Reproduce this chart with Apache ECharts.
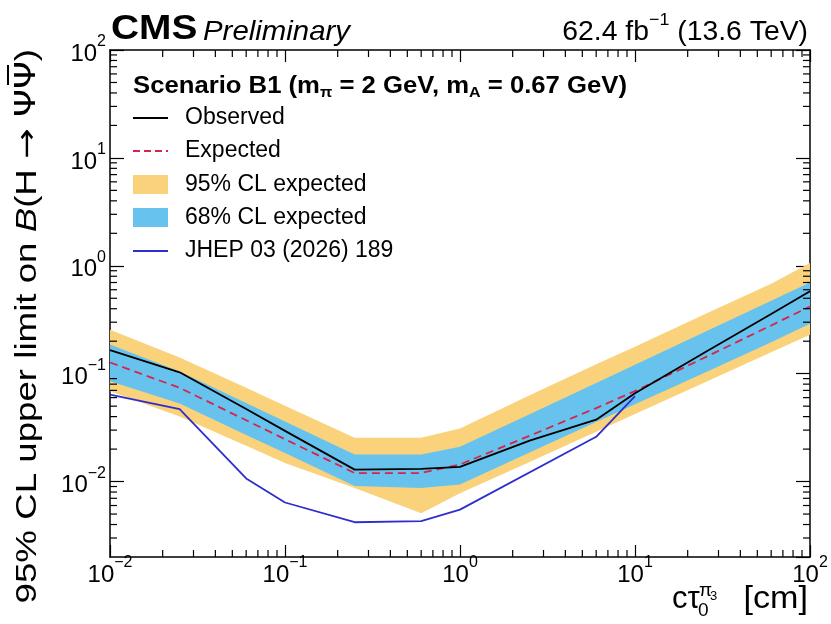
<!DOCTYPE html>
<html><head><meta charset="utf-8">
<script src="https://cdn.jsdelivr.net/npm/echarts@6/dist/echarts.min.js"></script>
<style>html,body{margin:0;padding:0;background:#fff}#c{width:831px;height:624px}</style>
</head><body><div id="c"></div>
<script>
// ---- data ----
const ctau = [0.01, 0.025, 0.06, 0.1, 0.25, 0.6, 1, 2.5, 6, 10, 25, 60, 100];
const observed = [0.165, 0.103, 0.047, 0.0295, 0.0129, 0.0131, 0.0137, 0.024, 0.0375, 0.066, 0.157, 0.357, 0.58];
const expected = [0.127, 0.074, 0.037, 0.0247, 0.012, 0.012, 0.0144, 0.0266, 0.048, 0.069, 0.141, 0.28, 0.42];
const band95Low = [0.0686, 0.040, 0.0215, 0.0149, 0.0087, 0.0051, 0.0078, 0.0152, 0.029, 0.0423, 0.083, 0.158, 0.23];
const band95High = [0.255, 0.141, 0.074, 0.0505, 0.0255, 0.0255, 0.031, 0.063, 0.122, 0.178, 0.355, 0.68, 1.06];
const band68Low = [0.085, 0.053, 0.027, 0.0184, 0.0091, 0.0087, 0.0094, 0.0186, 0.0357, 0.052, 0.102, 0.196, 0.29];
const band68High = [0.186, 0.105, 0.0535, 0.036, 0.0178, 0.0178, 0.021, 0.042, 0.082, 0.121, 0.244, 0.474, 0.70];
const jhepX = [0.01, 0.025, 0.06, 0.1, 0.25, 0.6, 1, 6, 10];
const jhepY = [0.064, 0.047, 0.0107, 0.0064, 0.0042, 0.0043, 0.0055, 0.026, 0.062];
const xRange = [0.01, 100];
const yRange = [0.002, 100];
const legendLabels = ['Observed', 'Expected', '95% CL expected', '68% CL expected', 'JHEP 03 (2026) 189'];

// ---- helpers ----
const FONT = "'Liberation Sans', Arial, Helvetica, sans-serif";
const DV = "'DejaVu Sans', sans-serif";
const C95 = '#F9D27B', C68 = '#67C3EE', CEXP = '#D6254D', CJHEP = '#2E2ECF';

function minorValues(lo, hi) {
  const out = [];
  for (let e = Math.floor(Math.log10(lo)); e < Math.ceil(Math.log10(hi)); e++) {
    for (let k = 2; k <= 9; k++) {
      const v = k * Math.pow(10, e);
      if (v > lo * 1.0001 && v < hi * 0.9999) out.push(v);
    }
  }
  return out;
}
function pow10Label(v) {
  const l = Math.log10(v), e = Math.round(l);
  if (Math.abs(l - e) > 1e-6) return '';
  return '{b|10}{s|' + (e < 0 ? '\u2212' + (-e) : e) + '}';
}
const labelRich = {
  b: {fontSize: 24, fontFamily: FONT, color: '#000', lineHeight: 32, verticalAlign: 'bottom'},
  s: {fontSize: 16, fontFamily: FONT, color: '#000', lineHeight: 18, verticalAlign: 'top'}
};
function bandRender(lo, hi, color) {
  return function (params, api) {
    if (params.dataIndex !== 0) return null;
    const pts = [];
    for (let i = 0; i < ctau.length; i++) pts.push(api.coord([ctau[i], hi[i]]));
    for (let i = ctau.length - 1; i >= 0; i--) pts.push(api.coord([ctau[i], lo[i]]));
    return {type: 'polygon', shape: {points: pts}, style: {fill: color}};
  };
}
function xMinorRender(params, api) {
  const v = api.value(0);
  const b = api.coord([v, yRange[0]]), t = api.coord([v, yRange[1]]);
  return {type: 'group', children: [
    {type: 'line', shape: {x1: b[0], y1: b[1], x2: b[0], y2: b[1] - 7}, style: {stroke: '#000', lineWidth: 1.2}},
    {type: 'line', shape: {x1: t[0], y1: t[1], x2: t[0], y2: t[1] + 7}, style: {stroke: '#000', lineWidth: 1.2}}
  ]};
}
function yMinorRender(params, api) {
  const v = api.value(1);
  const l = api.coord([xRange[0], v]), r = api.coord([xRange[1], v]);
  return {type: 'group', children: [
    {type: 'line', shape: {x1: l[0], y1: l[1], x2: l[0] + 7, y2: l[1]}, style: {stroke: '#000', lineWidth: 1.2}},
    {type: 'line', shape: {x1: r[0], y1: r[1], x2: r[0] - 7, y2: r[1]}, style: {stroke: '#000', lineWidth: 1.2}}
  ]};
}
function axisBase(extra) {
  return Object.assign({
    type: 'log', logBase: 10,
    axisLine: {show: true, onZero: false, lineStyle: {color: '#000', width: 1.5}},
    axisTick: {show: true, inside: true, length: 14, lineStyle: {color: '#000', width: 1.2}},
    splitLine: {show: false},
    minorTick: {show: false}
  }, extra);
}

const chart = echarts.init(document.getElementById('c'), null, {renderer: 'canvas'});

// legend rows (graphic)
const rowY = [118, 151, 185, 218, 251];
const legendGraphics = [
  {type: 'text', x: 133, y: 86, scaleX: 1.07, style: {
    text: '{b|Scenario B1 (m}{sub|\u03c0}{b| = 2 GeV, m}{sub|A}{b| = 0.67 GeV)}', verticalAlign: 'middle',
    rich: {
      b: {fontSize: 24, fontWeight: 'bold', fontFamily: FONT, fill: '#000', lineHeight: 28, verticalAlign: 'middle'},
      sub: {fontSize: 15, fontWeight: 'bold', fontFamily: FONT, fill: '#000', lineHeight: 16, verticalAlign: 'bottom'}
    }}},
  {type: 'line', shape: {x1: 133, y1: rowY[0], x2: 168, y2: rowY[0]}, style: {stroke: '#000', lineWidth: 1.8}},
  {type: 'line', shape: {x1: 133, y1: rowY[1], x2: 168, y2: rowY[1]}, style: {stroke: CEXP, lineWidth: 1.8, lineDash: [7, 4]}},
  {type: 'rect', shape: {x: 133, y: rowY[2] - 10, width: 35, height: 19}, style: {fill: C95}},
  {type: 'rect', shape: {x: 133, y: rowY[3] - 10, width: 35, height: 19}, style: {fill: C68}},
  {type: 'line', shape: {x1: 133, y1: rowY[4], x2: 168, y2: rowY[4]}, style: {stroke: CJHEP, lineWidth: 1.8}}
];
legendLabels.forEach((t, i) => {
  legendGraphics.push({type: 'text', x: 185, y: rowY[i], style: {text: t, font: '23px ' + FONT, fill: '#000', verticalAlign: 'middle'}});
});

const option = {
  animation: false,
  backgroundColor: '#fff',
  grid: {left: 110, right: 21, top: 50, bottom: 67, containLabel: false},
  xAxis: [
    axisBase({position: 'bottom', min: xRange[0], max: xRange[1], axisTick: {show: true, inside: true, length: 12, lineStyle: {color: '#000', width: 1.2}},
      axisLabel: {formatter: pow10Label, rich: labelRich, margin: -2, color: '#000'}}),
    axisBase({position: 'top', min: xRange[0], max: xRange[1], axisTick: {show: true, inside: true, length: 12, lineStyle: {color: '#000', width: 1.2}},
      axisLabel: {show: false}})
  ],
  yAxis: [
    axisBase({position: 'left', min: yRange[0], max: yRange[1],
      axisLabel: {formatter: pow10Label, rich: labelRich, margin: 4, color: '#000', showMinLabel: false}}),
    axisBase({position: 'right', min: yRange[0], max: yRange[1], axisLabel: {show: false}})
  ],
  series: [
    {type: 'custom', name: '95% CL expected', renderItem: bandRender(band95Low, band95High, C95), z: 1, silent: true,
      data: ctau.map((x, i) => [x, band95Low[i], band95High[i]]), encode: {x: 0, y: [1, 2]}},
    {type: 'custom', name: '68% CL expected', renderItem: bandRender(band68Low, band68High, C68), z: 1, silent: true,
      data: ctau.map((x, i) => [x, band68Low[i], band68High[i]]), encode: {x: 0, y: [1, 2]}},
    {type: 'line', name: 'JHEP 03 (2026) 189', data: jhepX.map((x, i) => [x, jhepY[i]]), symbol: 'none', z: 3,
      lineStyle: {color: CJHEP, width: 1.8}},
    {type: 'line', name: 'Expected', data: ctau.map((x, i) => [x, expected[i]]), symbol: 'none', z: 4,
      lineStyle: {color: CEXP, width: 1.8, type: [8, 5]}},
    {type: 'line', name: 'Observed', data: ctau.map((x, i) => [x, observed[i]]), symbol: 'none', z: 5,
      lineStyle: {color: '#000', width: 1.8}},
    {type: 'custom', renderItem: xMinorRender, z: 6, silent: true, data: minorValues(xRange[0], xRange[1]).map(v => [v, yRange[0]])},
    {type: 'custom', renderItem: yMinorRender, z: 6, silent: true, data: minorValues(yRange[0], yRange[1]).map(v => [xRange[0], v])}
  ],
  graphic: [
    {type: 'text', x: 111, y: 47, scaleX: 1.11, style: {text: 'CMS', font: 'bold 35px ' + FONT, fill: '#000', verticalAlign: 'bottom'}},
    {type: 'text', x: 203, y: 46, scaleX: 1.05, style: {text: 'Preliminary', font: 'italic 28px ' + FONT, fill: '#000', verticalAlign: 'bottom'}},
    {type: 'text', x: 808, y: 46, scaleX: 1.05, style: {
      text: '{m|62.4 fb}{s|\u22121}{m| (13.6 TeV)}', align: 'right', verticalAlign: 'bottom',
      rich: {m: {fontSize: 27, fontFamily: FONT, fill: '#000', lineHeight: 34, verticalAlign: 'bottom'},
             s: {fontSize: 17, fontFamily: FONT, fill: '#000', lineHeight: 20, verticalAlign: 'top'}}}},
    {type: 'text', x: 28, y: 49, rotation: Math.PI / 2, scaleX: 1.265, style: {
      text: '{m|95% CL upper limit on }{i|B}{m|(H }{a|\u2192}{p| \u03a8\u03a8}{m|)}', align: 'right', verticalAlign: 'middle',
      rich: {m: {fontSize: 29, fontFamily: FONT, fill: '#000', lineHeight: 36},
             i: {fontSize: 29, fontStyle: 'italic', fontFamily: FONT, fill: '#000', lineHeight: 36},
             a: {fontSize: 29, fontFamily: DV, fill: '#000', lineHeight: 36},
             p: {fontSize: 28, fontFamily: DV, fill: '#000', lineHeight: 36}}}},
    {type: 'line', shape: {x1: 8, y1: 65, x2: 8, y2: 85}, style: {stroke: '#000', lineWidth: 2}},
    {type: 'text', x: 672, y: 615, style: {text: 'c\u03c4', font: '31px ' + FONT, fill: '#000', verticalAlign: 'bottom'}},
    {type: 'text', x: 698, y: 620, style: {text: '0', font: '19px ' + FONT, fill: '#000', verticalAlign: 'bottom'}},
    {type: 'text', x: 699, y: 600, style: {text: '\u03c0', font: '19px ' + FONT, fill: '#000', verticalAlign: 'bottom'}},
    {type: 'text', x: 710, y: 603, style: {text: '3', font: '13px ' + FONT, fill: '#000', verticalAlign: 'bottom'}},
    {type: 'text', x: 808, y: 615, scaleX: 1.1, style: {text: '[cm]', font: '31px ' + FONT, fill: '#000', align: 'right', verticalAlign: 'bottom'}}
  ].concat(legendGraphics)
};
chart.setOption(option);
</script></body></html>
